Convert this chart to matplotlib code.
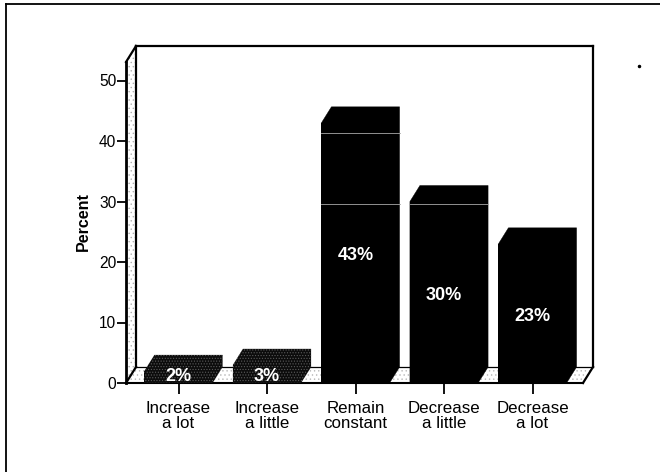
import matplotlib
matplotlib.use('Agg')
import matplotlib.pyplot as plt
from matplotlib.lines import Line2D
from matplotlib.patches import Polygon

plt.rcParams['font.family'] = ['Liberation Sans', 'DejaVu Sans']
plt.rcParams['hatch.linewidth'] = 0.5

categories = ['Increase\na lot', 'Increase\na little', 'Remain\nconstant',
              'Decrease\na little', 'Decrease\na lot']
percent = [2, 3, 43, 30, 23]
labels = ['2%', '3%', '43%', '30%', '23%']
y_ticks = [0, 10, 20, 30, 40, 50]
# pale bands running across the tall bars: (bar index, height)
bands = [(2, 41.3), (2, 29.6), (3, 29.6)]

W, H = 660, 472
DEPTH_X, DEPTH_Y = 10, 16      # pixels of 3d offset
PX_X, PX_Y = 88.5, 6.05        # pixels per category / per percent
FIRST_X = 178.5                # pixel centre of the first bar
BAR_W = 0.77

fig = plt.figure(figsize=(W / 100, H / 100), dpi=100)
left, right, bottom, top = 126, 583, 383, 62
ax = fig.add_axes([left / W, 1 - bottom / H, (right - left) / W, (bottom - top) / H])
ax.set_xlim((left - FIRST_X) / PX_X, (right - FIRST_X) / PX_X)
ax.set_ylim(0, (bottom - top) / PX_Y)
ax.patch.set_visible(False)
for s in ax.spines.values():
    s.set_visible(False)

dx = DEPTH_X / PX_X
dy = DEPTH_Y / PX_Y
x0, x1 = ax.get_xlim()
y1 = ax.get_ylim()[1]


def poly(pts, **kw):
    kw.setdefault('clip_on', False)
    ax.add_patch(Polygon(pts, closed=True, **kw))


# left wall and floor, speckled
poly([(x0, 0), (x0 + dx, dy), (x0 + dx, y1 + dy), (x0, y1)],
     facecolor='white', edgecolor='#b0b0b0', hatch='....', lw=0, zorder=1)
poly([(x0, 0), (x0 + dx, dy), (x1 + dx, dy), (x1, 0)],
     facecolor='white', edgecolor='#b8b8b8', hatch='....', lw=0, zorder=1)

# outlines of the box
box_lines = [
    ([x0, x0], [0, y1], 2.0),
    ([x0, x0 + dx], [y1, y1 + dy], 1.6),
    ([x0 + dx, x0 + dx], [dy, y1 + dy], 1.6),
    ([x0 + dx, x1 + dx], [y1 + dy, y1 + dy], 1.6),
    ([x1 + dx, x1 + dx], [dy, y1 + dy], 1.6),
    ([x0, x0 + dx], [0, dy], 1.6),
    ([x1, x1 + dx], [0, dy], 1.6),
    ([x0 + dx, x1 + dx], [dy, dy], 0.9),
    ([x0, x1], [0, 0], 1.5),
]
for xs, ys, lw in box_lines:
    ax.plot(xs, ys, color='black', lw=lw, clip_on=False, zorder=2)

# bars: front face from ax.bar, the outline of top and side faces as one shape
for i, v in enumerate(percent):
    short = v < 10
    l = i - BAR_W / 2
    r = i + BAR_W / 2
    ax.bar(i, v, width=BAR_W, color='black', lw=0, zorder=3)
    shape = [(l, 0), (l, v), (l + dx, v + dy), (r + dx, v + dy), (r + dx, dy), (r, 0)]
    if short:
        poly(shape, facecolor='#0c0c0c', edgecolor='#5a5a5a', hatch='......', lw=0, zorder=3)
    else:
        poly(shape, facecolor='black', edgecolor='black', lw=0.3, zorder=3)
    # the smallest label would otherwise run over the floor line
    shift = -2 if v > 2 else 0
    ax.annotate(labels[i], (i, v / 2), xytext=(0, shift), textcoords='offset points',
                color='white', fontweight='bold', fontsize=13, ha='center', va='center', zorder=5)

for i, v in bands:
    ax.plot([i - BAR_W / 2, i + BAR_W / 2 + dx], [v, v], color='#a8a8a8', lw=0.6, zorder=4)

ax.set_xticks(range(len(categories)))
ax.set_xticklabels(categories, fontsize=12.2, linespacing=1.0)
ax.set_yticks(y_ticks)
ax.tick_params(axis='x', length=8, width=1.3, pad=5)
ax.tick_params(axis='y', length=6.5, width=1.3, pad=0.5, labelsize=11.2)
fig.text(83 / W, 1 - 222 / H, 'Percent', rotation=90, fontsize=11.5, fontweight='bold',
         ha='center', va='center')

# outer frame: open on the right and at the bottom
fig.add_artist(Line2D([6 / W, 6 / W], [0, 1 - 4 / H], color='black', lw=1.3))
fig.add_artist(Line2D([6 / W, 1], [1 - 4 / H, 1 - 4 / H], color='black', lw=1.3))
fig.add_artist(Line2D([639 / W], [1 - 66 / H], marker='o', ms=1.5, color='black'))

plt.savefig('out.png', dpi=100)
